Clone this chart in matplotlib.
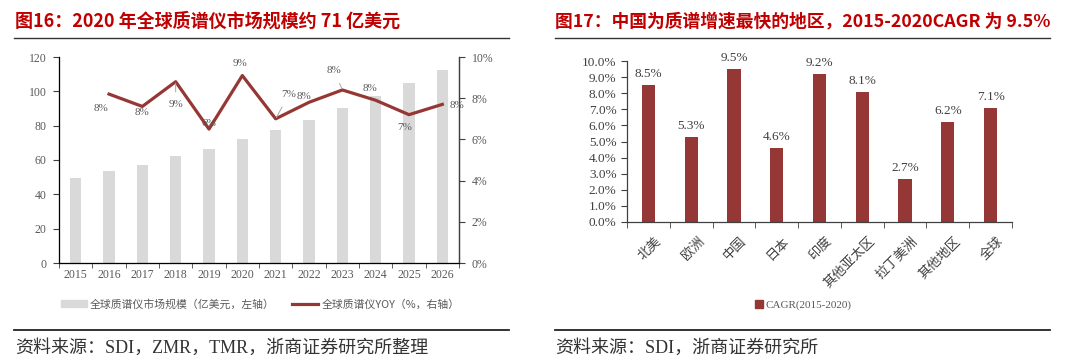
import matplotlib
matplotlib.use("Agg")
import matplotlib.pyplot as plt
import matplotlib.transforms as mtrans
from matplotlib.lines import Line2D
from matplotlib.patches import Patch
import numpy as np

# 数据
anos = ['2015', '2016', '2017', '2018', '2019', '2020', '2021', '2022', '2023', '2024', '2025', '2026']
mercado = [49.5, 53.4, 57.3, 62.5, 66.6, 72.4, 77.5, 83.3, 90.3, 97.5, 104.7, 112.4]
yoy = [None, 8.2, 7.6, 8.8, 6.5, 9.1, 7.0, 7.8, 8.4, 7.9, 7.2, 7.7]
yoy_rotulos = ['', '8%', '8%', '9%', '6%', '9%', '7%', '8%', '8%', '8%', '7%', '8%']

regioes = ['北美', '欧洲', '中国', '日本', '印度', '其他亚太区', '拉丁美洲', '其他地区', '全球']
cagr = [8.5, 5.3, 9.5, 4.6, 9.2, 8.1, 2.7, 6.2, 7.1]

CJK = ['Noto Sans CJK SC', 'DejaVu Sans']
SERIF = ['Liberation Serif', 'Noto Sans CJK SC']
VERMELHO = '#C00000'
CINZA_TXT = '#595959'
EIXO = '#404040'

W, H = 1080, 361
fig = plt.figure(figsize=(W / 100, H / 100), dpi=100)


def fx(px):
    return px / W


def fy(py):
    return 1 - py / H


def linha_h(x0, x1, y, lw=1.0, cor='#333333'):
    fig.add_artist(Line2D([fx(x0), fx(x1)], [fy(y), fy(y)], transform=fig.transFigure, color=cor, lw=lw))


# titulos e rodapes
fig.text(fx(15), fy(21), '图16：2020 年全球质谱仪市场规模约 71 亿美元', family=CJK, fontsize=13,
         fontweight='bold', color=VERMELHO, va='center', ha='left')
fig.text(fx(555), fy(21), '图17：中国为质谱增速最快的地区，2015-2020CAGR 为 9.5%', family=CJK, fontsize=12.8,
         fontweight='bold', color=VERMELHO, va='center', ha='left')
linha_h(14, 509, 38)
linha_h(555, 1050, 38)
linha_h(14, 509, 330, lw=1.3, cor='#222222')
linha_h(555, 1050, 330, lw=1.3, cor='#222222')
fig.text(fx(15), fy(348), '资料来源：SDI，ZMR，TMR，浙商证券研究所整理', family=SERIF, fontsize=13,
         color='#333333', va='center', ha='left')
fig.text(fx(555), fy(348), '资料来源：SDI，浙商证券研究所', family=SERIF, fontsize=13,
         color='#333333', va='center', ha='left')

# ---------------- grafico esquerdo ----------------
ax = fig.add_axes([fx(59), fy(263), fx(400), (263 - 57) / H])
x = np.arange(len(anos))
ax.bar(x, mercado, width=0.34, color='#D9D9D9', zorder=1)
ax.set_xlim(-0.5, len(anos) - 0.5)
ax.set_ylim(0, 120)
ax.set_yticks(range(0, 121, 20))
ax.set_xticks(x)
ax.set_xticklabels(anos)
ax.set_xticks(np.arange(-0.5, len(anos), 1), minor=True)
ax.tick_params(axis='x', which='major', length=0, pad=4)
ax.tick_params(axis='x', which='minor', length=3.5, direction='out', color=EIXO)
ax.tick_params(axis='y', length=4, direction='out', color=EIXO, pad=5)
for lab in ax.get_xticklabels() + ax.get_yticklabels():
    lab.set_family(SERIF)
    lab.set_fontsize(8.5)
    lab.set_color(CINZA_TXT)
ax.spines['top'].set_visible(False)
for s in ['left', 'bottom', 'right']:
    ax.spines[s].set_color(EIXO)
    ax.spines[s].set_linewidth(0.9)

ax2 = ax.twinx()
xs = [i for i, v in enumerate(yoy) if v is not None]
vs = [v for v in yoy if v is not None]
ax2.plot(xs, vs, color='#953735', lw=2.3, zorder=3)
ax2.set_ylim(0, 10)
ax2.set_yticks(range(0, 11, 2))
ax2.set_yticklabels([f'{v}%' for v in range(0, 11, 2)])
ax2.tick_params(axis='y', length=4, direction='out', color=EIXO, pad=5)
for lab in ax2.get_yticklabels():
    lab.set_family(SERIF)
    lab.set_fontsize(8.5)
    lab.set_color(CINZA_TXT)
ax2.spines['top'].set_visible(False)
ax2.spines['right'].set_color(EIXO)
ax2.spines['right'].set_linewidth(0.9)

# deslocamentos dos rotulos (pixels) e se tem linha guia
desloc = [(0, 0), (-8, -14), (0, -6), (0, -23), (0, 6), (-2, 12), (13, 24), (-5, 6), (-8, 19), (-6, 12), (-4, -13), (15, -1)]
guia = [False, False, False, True, False, False, True, False, True, False, False, False]
for i, v in enumerate(yoy):
    if v is None:
        continue
    dx, dy = desloc[i]
    props = dict(arrowstyle='-', color='#A6A6A6', lw=0.7, shrinkA=4, shrinkB=1) if guia[i] else None
    ax2.annotate(yoy_rotulos[i], (i, v), xytext=(dx, dy), textcoords='offset pixels',
                 ha='center', va='center', fontsize=8, family=SERIF, color=CINZA_TXT,
                 arrowprops=props, zorder=4)

leg1 = fig.legend(handles=[Patch(color='#D9D9D9', label='全球质谱仪市场规模（亿美元，左轴）'),
                           Line2D([], [], color='#953735', lw=2.3, label='全球质谱仪YOY（%，右轴）')],
                  loc='center', bbox_to_anchor=(fx(260), fy(304)), ncol=2, frameon=False,
                  prop={'family': CJK, 'size': 7.8}, handlelength=2.4, handletextpad=0.3,
                  columnspacing=1.6)
for t in leg1.get_texts():
    t.set_color(CINZA_TXT)

# ---------------- grafico direito ----------------
bx = fig.add_axes([fx(627), fy(222), fx(385), (222 - 61) / H])
xr = np.arange(len(regioes))
bx.bar(xr, cagr, width=0.31, color='#953735', label='CAGR(2015-2020)')
bx.set_xlim(-0.5, len(regioes) - 0.5)
bx.set_ylim(0, 10)
bx.set_yticks(np.arange(0, 10.5, 1))
bx.set_yticklabels([f'{v:.1f}%' for v in np.arange(0, 10.5, 1)])
bx.set_xticks(xr)
bx.set_xticklabels(regioes, rotation=45, ha='right', rotation_mode='anchor')
bx.set_xticks(np.arange(-0.5, len(regioes), 1), minor=True)
bx.tick_params(axis='x', which='major', length=0, pad=9)
bx.tick_params(axis='x', which='minor', length=4, direction='out', color=EIXO)
bx.tick_params(axis='y', length=4, direction='out', color=EIXO)
for lab in bx.get_yticklabels():
    lab.set_family(SERIF)
    lab.set_fontsize(9.5)
    lab.set_color('#404040')
desl = mtrans.ScaledTranslation(6 / 100, 0, fig.dpi_scale_trans)
for lab in bx.get_xticklabels():
    lab.set_family(CJK)
    lab.set_fontsize(9.5)
    lab.set_color('#404040')
    lab.set_transform(lab.get_transform() + desl)
for s in ['top', 'right']:
    bx.spines[s].set_visible(False)
for s in ['left', 'bottom']:
    bx.spines[s].set_color(EIXO)
    bx.spines[s].set_linewidth(0.9)
for i, v in enumerate(cagr):
    bx.annotate(f'{v:.1f}%', (i, v), xytext=(0, 5), textcoords='offset pixels', ha='center', va='bottom',
                fontsize=9.5, family=SERIF, color='#404040', annotation_clip=False)

leg2 = fig.legend(handles=[Patch(color='#953735', label='CAGR(2015-2020)')], loc='center',
                  bbox_to_anchor=(fx(803), fy(305)), frameon=False, prop={'family': SERIF, 'size': 8},
                  handlelength=0.7, handleheight=0.7, handletextpad=0.2)
for t in leg2.get_texts():
    t.set_color(CINZA_TXT)

fig.savefig('out.png', dpi=100)
